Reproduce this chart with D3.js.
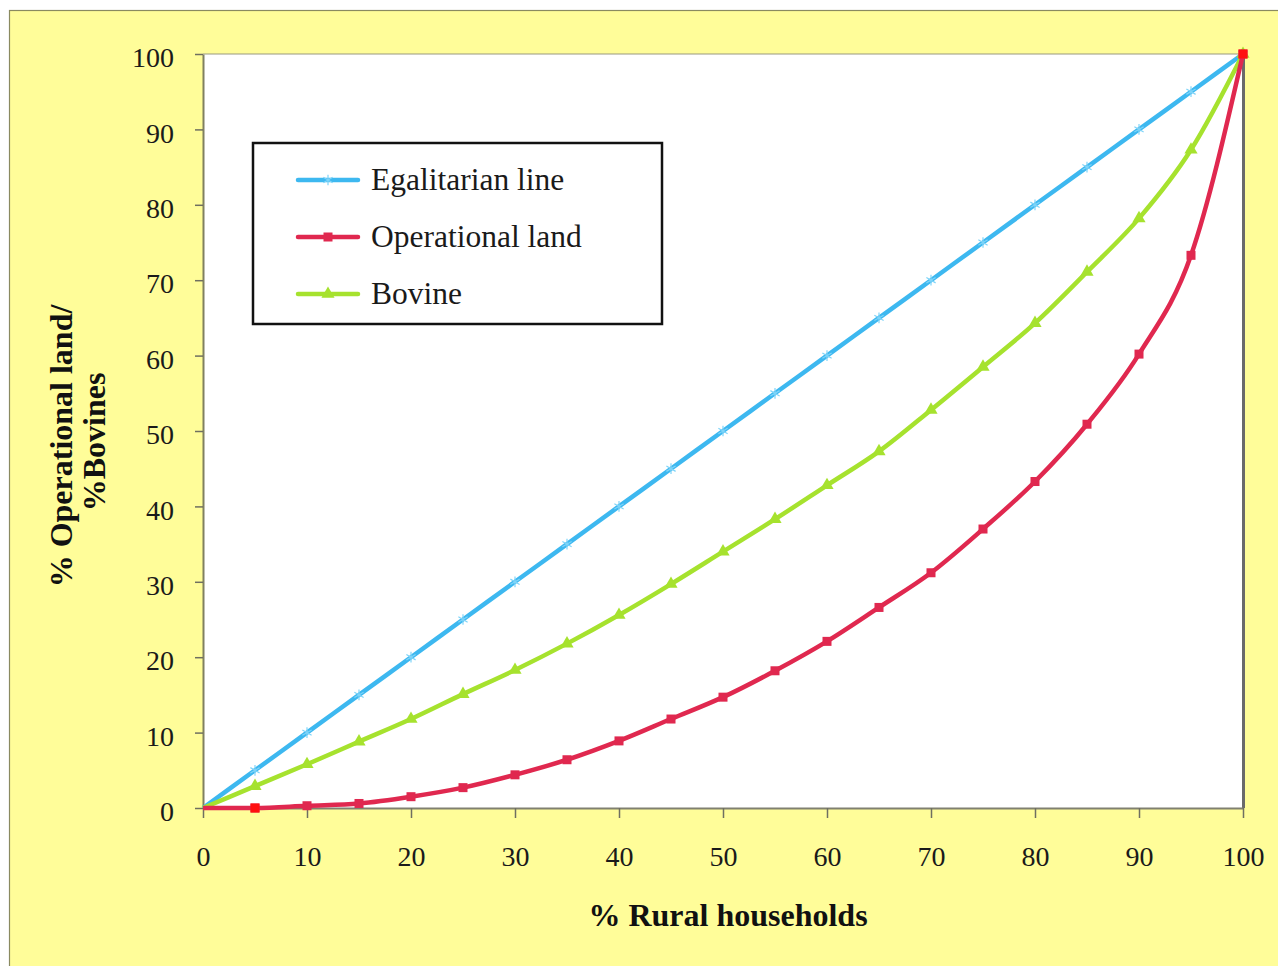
<!DOCTYPE html>
<html><head><meta charset="utf-8">
<script src="https://cdn.jsdelivr.net/npm/d3@7"></script>
<style>
html,body{margin:0;padding:0;background:#fff;}
svg{display:block;}
</style></head>
<body>
<script>
const xValues = [0,5,10,15,20,25,30,35,40,45,50,55,60,65,70,75,80,85,90,95,100];
const egalitarian = [0,5,10,15,20,25,30,35,40,45,50,55,60,65,70,75,80,85,90,95,100];
const operationalLand = [0,0,0.3,0.6,1.5,2.7,4.4,6.4,8.9,11.8,14.7,18.2,22.1,26.6,31.2,37.0,43.3,50.9,60.2,73.3,100];
const bovine = [0,2.9,5.8,8.8,11.8,15.1,18.3,21.8,25.6,29.7,34.0,38.3,42.8,47.3,52.8,58.5,64.3,71.1,78.2,87.3,100];
const tickValues = [0,10,20,30,40,50,60,70,80,90,100];
const seriesNames = ["Egalitarian line","Operational land","Bovine"];
const xTitle = "% Rural households";
const yTitleLines = ["% Operational land/","%Bovines"];

const W = 1278, H = 966;
const svg = d3.select("body").append("svg").attr("width", W).attr("height", H);

// outer yellow panel
svg.append("rect").attr("x",9.5).attr("y",10.5).attr("width",W).attr("height",H)
  .attr("fill","#FFFD99").attr("stroke","#8A8A60").attr("stroke-width",1.2);

const L = 203, R = 1243, T = 54, B = 808;
const x = d3.scaleLinear().domain([0,100]).range([L,R]);
const y = d3.scaleLinear().domain([0,100]).range([B,T]);

svg.append("rect").attr("x",L).attr("y",T).attr("width",R-L).attr("height",B-T).attr("fill","#fff");
// top border
svg.append("line").attr("x1",L).attr("x2",R).attr("y1",T).attr("y2",T).attr("stroke","#9a9a80").attr("stroke-width",1.2);
// right border
svg.append("line").attr("x1",R+0.5).attr("x2",R+0.5).attr("y1",T).attr("y2",B).attr("stroke","#6a6a6a").attr("stroke-width",3);

const font = "'Liberation Serif','Times New Roman',serif";

// axes
const xAxis = svg.append("g").attr("transform",`translate(0,${B})`)
  .call(d3.axisBottom(x).tickValues(tickValues).tickSize(10).tickSizeOuter(0).tickPadding(0));
xAxis.select(".domain").attr("stroke","#808070").attr("stroke-width",2);
xAxis.selectAll(".tick line").attr("stroke","#6f6f60").attr("stroke-width",1.5);
xAxis.selectAll(".tick text").attr("font-family",font).attr("font-size",28).attr("fill","#1a1a1a")
  .attr("dy",null).attr("y",58);

const yAxis = svg.append("g").attr("transform",`translate(${L},0)`)
  .call(d3.axisLeft(y).tickValues(tickValues).tickSize(8).tickSizeOuter(0).tickPadding(0));
yAxis.select(".domain").attr("stroke","#808060").attr("stroke-width",2);
yAxis.selectAll(".tick line").attr("stroke","#6f6f60").attr("stroke-width",1.5);
yAxis.selectAll(".tick text").attr("font-family",font).attr("font-size",28).attr("fill","#1a1a1a")
  .attr("x",-29).attr("dy","0.45em");

// series
const series = [
  {name:seriesNames[0], vals:egalitarian, color:"#3DB8F0", marker:"x"},
  {name:seriesNames[1], vals:operationalLand, color:"#E0284F", marker:"sq"},
  {name:seriesNames[2], vals:bovine, color:"#A6E22E", marker:"tri"}
];
const line = d3.line().x(d=>x(d[0])).y(d=>y(d[1])).curve(d3.curveMonotoneX);

function drawMarker(g, m, color, px, py){
  if(m==="x"){
    g.append("path").attr("transform",`translate(${px},${py})`)
      .attr("d", d3.symbol().type(d3.symbolAsterisk).size(80)())
      .attr("fill","none").attr("stroke","#7fd4f8").attr("stroke-width",1.2);
  } else if(m==="sq"){
    g.append("rect").attr("x",px-4.5).attr("y",py-4.5).attr("width",9).attr("height",9).attr("fill",color);
  } else {
    g.append("path").attr("transform",`translate(${px},${py})`)
      .attr("d", d3.symbol().type(d3.symbolTriangle).size(75)())
      .attr("fill",color);
  }
}

// draw in order: blue, green, red (red on top)
[series[0],series[2],series[1]].forEach(s=>{
  const pts = xValues.map((xv,i)=>[xv,s.vals[i]]);
  const g = svg.append("g");
  g.append("path").datum(pts).attr("d",line).attr("fill","none")
    .attr("stroke",s.color).attr("stroke-width",4.5).attr("stroke-linejoin","round");
  pts.forEach((p,i)=>{ if(i>0) drawMarker(g, s.marker, s.color, x(p[0]), y(p[1])); });
});
// bright red endpoint markers as in the reference
[1, xValues.length-1].forEach(i=>{
  svg.append("rect").attr("x",x(xValues[i])-4.5).attr("y",y(operationalLand[i])-4.5)
    .attr("width",9).attr("height",9).attr("fill","#FF1010");
});

// legend
const lg = svg.append("g");
lg.append("rect").attr("x",253).attr("y",143).attr("width",409).attr("height",181)
  .attr("fill","#fff").attr("stroke","#111").attr("stroke-width",2.5);
const rowsY = [180,237,294];
series.forEach((s,i)=>{
  const yy = rowsY[i];
  lg.append("line").attr("x1",298).attr("x2",358).attr("y1",yy).attr("y2",yy)
    .attr("stroke",s.color).attr("stroke-width",4.5).attr("stroke-linecap","round");
  drawMarker(lg, s.marker, s.color, 328, yy);
  lg.append("text").attr("x",371).attr("y",yy).attr("dy","0.33em")
    .attr("font-family",font).attr("font-size",31.5).attr("fill","#1a1a1a").text(s.name);
});

// axis titles
svg.append("text").attr("x",728).attr("y",926).attr("text-anchor","middle")
  .attr("font-family",font).attr("font-size",32).attr("font-weight","bold").attr("fill","#111")
  .text(xTitle);
const yt = svg.append("text").attr("transform","translate(0,446) rotate(-90)")
  .attr("text-anchor","middle").attr("font-family",font).attr("font-size",32)
  .attr("font-weight","bold").attr("fill","#111");
yt.append("tspan").attr("x",0).attr("y",72).text(yTitleLines[0]);
yt.append("tspan").attr("x",4).attr("y",105).text(yTitleLines[1]);
</script>
</body></html>
